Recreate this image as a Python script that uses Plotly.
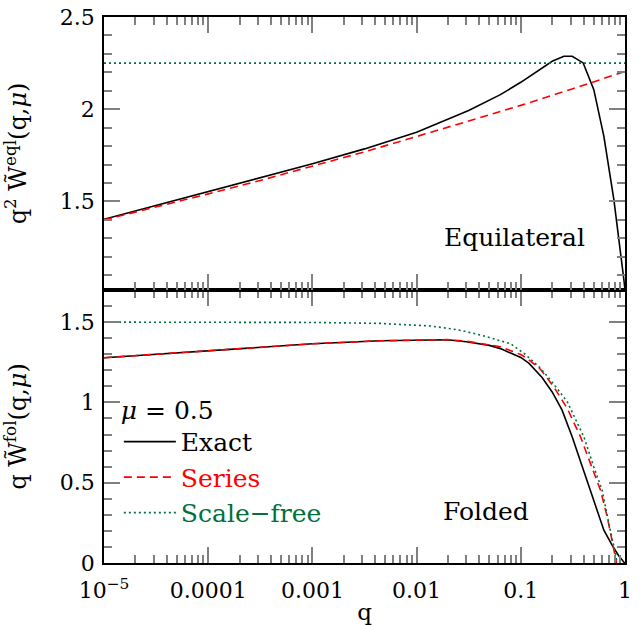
import plotly.graph_objects as go

# ---------------- data ----------------
# Top panel: equilateral configuration
q_eql_exact = [1e-5, 3.16e-5, 1e-4, 3.16e-4, 1e-3, 3.16e-3, 1e-2, 3.16e-2, 0.0637, 0.1,
               0.158, 0.2, 0.259, 0.311, 0.397, 0.502, 0.627, 0.782, 0.975, 1.0]
eql_exact = [1.403, 1.478, 1.554, 1.627, 1.704, 1.785, 1.875, 1.993, 2.079, 2.146,
             2.222, 2.26, 2.287, 2.287, 2.251, 2.106, 1.853, 1.510, 1.077, 1.02]

q_eql_series = [1e-5, 3.16e-5, 1e-4, 3.16e-4, 1e-3, 3.16e-3, 1e-2, 3.16e-2, 0.1, 0.316, 1.0]
eql_series = [1.400, 1.469, 1.541, 1.614, 1.690, 1.769, 1.852, 1.935, 2.021, 2.111, 2.205]

q_eql_sf = [1e-5, 1.0]
eql_sf = [2.25, 2.25]

# Bottom panel: folded configuration
q_fol_exact = [1e-5, 1e-4, 1e-3, 4.5e-3, 0.0197, 0.03, 0.041, 0.05, 0.0638, 0.08, 0.1,
               0.12, 0.16, 0.2, 0.249, 0.311, 0.388, 0.467, 0.561, 0.627, 0.754, 0.87,
               0.973, 1.0]
fol_exact = [1.278, 1.321, 1.365, 1.384, 1.390, 1.378, 1.365, 1.355, 1.335, 1.308, 1.280,
             1.243, 1.155, 1.065, 0.952, 0.786, 0.598, 0.453, 0.297, 0.204, 0.110, 0.045,
             0.006, 0.0]

q_fol_series = [1e-5, 1e-4, 1e-3, 4.5e-3, 0.0197, 0.03, 0.041, 0.0638, 0.08, 0.1, 0.115,
                0.155, 0.207, 0.279, 0.374, 0.467, 0.582, 0.675, 0.754, 0.811, 0.83]
fol_series = [1.278, 1.321, 1.365, 1.384, 1.391, 1.381, 1.368, 1.347, 1.322, 1.298, 1.274,
              1.205, 1.097, 0.963, 0.786, 0.620, 0.453, 0.287, 0.121, 0.017, 0.0]

q_fol_sf = [1e-5, 1e-4, 1e-3, 4.5e-3, 0.0136, 0.025, 0.041, 0.08, 0.11, 0.155, 0.193,
            0.279, 0.403, 0.502, 0.604, 0.70, 0.811, 0.835]
fol_sf = [1.500, 1.500, 1.498, 1.492, 1.476, 1.452, 1.420, 1.365, 1.300, 1.212, 1.139,
          1.004, 0.786, 0.598, 0.453, 0.245, 0.059, 0.0]

x_tickvals = [1e-5, 1e-4, 1e-3, 1e-2, 1e-1, 1]
x_ticktext = ["10<sup>\u22125</sup>", "0.0001", "0.001", "0.01", "0.1", "1"]
y_fol_tickvals = [0, 0.5, 1, 1.5]
y_fol_ticktext = ["0", "0.5", "1", "1.5"]
y_eql_tickvals = [1.5, 2, 2.5]
y_eql_ticktext = ["1.5", "2", "2.5"]

# ---------------- styles ----------------
FONT = "DejaVu Serif"
BLACK = "black"
RED = "#ff0000"
GREEN = "#00703c"
TICKC = "#808080"

fig = go.Figure()

def add(x, y, color, dash, name, xa, ya, show):
    fig.add_trace(go.Scatter(
        x=x, y=y, mode="lines", name=name, showlegend=show,
        line=dict(color=color, width=1.6, dash=dash),
        xaxis=xa, yaxis=ya))

add(q_eql_exact, eql_exact, BLACK, "solid", "Exact", "x2", "y2", False)
add(q_eql_series, eql_series, RED, "8px,5px", "Series", "x2", "y2", False)
add(q_eql_sf, eql_sf, GREEN, "2px,3px", "Scale-free", "x2", "y2", False)
add(q_fol_exact, fol_exact, BLACK, "solid", "Exact", "x", "y", True)
add(q_fol_series, fol_series, RED, "8px,5px",
    "<span style='color:#ff0000'>Series</span>", "x", "y", True)
add(q_fol_sf, fol_sf, GREEN, "2px,3px",
    "<span style='color:#00703c'>Scale\u2212free</span>", "x", "y", True)

def xax(**kw):
    d = dict(type="log", range=[-5, 0], ticks="inside", ticklen=16, tickwidth=2,
             tickcolor=TICKC, showline=True, linecolor="black", linewidth=1.5,
             mirror="ticks", showgrid=False, zeroline=False, automargin=False,
             minor=dict(dtick="D1", ticks="inside", ticklen=8, tickwidth=2,
                        tickcolor=TICKC, showgrid=False))
    d.update(kw)
    return d

def yax(**kw):
    d = dict(ticks="inside", ticklen=16, tickwidth=2, tickcolor=TICKC,
             showline=True, linecolor="black", linewidth=1.5, mirror="ticks",
             showgrid=False, zeroline=False, automargin=False,
             minor=dict(dtick=0.1, ticks="inside", ticklen=8, tickwidth=2,
                        tickcolor=TICKC, showgrid=False),
             ticklabelstandoff=3,
             tickfont=dict(family=FONT, size=22, color="black"))
    d.update(kw)
    return d

fig.update_layout(
    width=641, height=625,
    margin=dict(l=104, r=16, t=17, b=62),
    paper_bgcolor="white", plot_bgcolor="white",
    font=dict(family=FONT, size=22, color="black"),
    xaxis=xax(anchor="y", domain=[0, 1], tickvals=x_tickvals, ticktext=x_ticktext,
              ticklabelstandoff=7,
              tickfont=dict(family=FONT, size=22, color="black"),
              title=dict(text="q", font=dict(family=FONT, size=23), standoff=2)),
    xaxis2=xax(anchor="y2", domain=[0, 1], tickvals=x_tickvals, showticklabels=False),
    yaxis=yax(anchor="x", domain=[0, 0.5], range=[0, 1.7],
              tickvals=y_fol_tickvals, ticktext=y_fol_ticktext,
              title=dict(text="q W\u0303<sup>fol</sup>(q,<i>\u03bc</i>)",
                         font=dict(family=FONT, size=24), standoff=30)),
    yaxis2=yax(anchor="x2", domain=[0.5, 1], range=[1.02, 2.5],
               tickvals=y_eql_tickvals, ticktext=y_eql_ticktext,
               title=dict(text="q<sup>2</sup> W\u0303<sup>eql</sup>(q,<i>\u03bc</i>)",
                          font=dict(family=FONT, size=24), standoff=30)),
    legend=dict(x=0.0285, y=0.3235, xanchor="left", yanchor="top",
                bgcolor="rgba(0,0,0,0)", borderwidth=0,
                font=dict(family=FONT, size=25, color="black"),
                title=dict(text="<i>\u03bc</i> = 0.5", font=dict(family=FONT, size=25)),
                itemwidth=52, tracegroupgap=0),
    annotations=[
        dict(text="Equilateral", xref="paper", yref="paper", x=0.788, y=0.597,
             showarrow=False, xanchor="center", yanchor="middle",
             font=dict(family=FONT, size=25, color="black")),
        dict(text="Folded", xref="paper", yref="paper", x=0.733, y=0.0935,
             showarrow=False, xanchor="center", yanchor="middle",
             font=dict(family=FONT, size=25, color="black")),
    ],
)

# Page styling: drop the default 8px body margin so the figure sits at the page corner.
js = "document.body.style.margin = '0';"
fig.write_html("out.html", post_script=js, config={"displayModeBar": False})
